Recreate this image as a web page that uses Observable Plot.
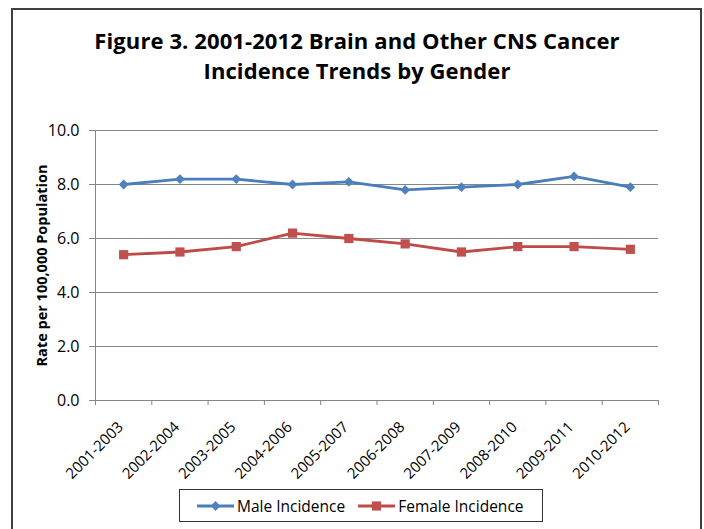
<!DOCTYPE html>
<html>
<head>
<meta charset="utf-8">
<script src="https://cdn.jsdelivr.net/npm/d3@7"></script>
<script src="https://cdn.jsdelivr.net/npm/@observablehq/plot@0.6"></script>
<style>
  html, body { margin: 0; padding: 0; background: #fff; }
  #wrap { position: relative; width: 704px; height: 529px; overflow: hidden; font-family: "Open Sans", Lato, sans-serif; }
  #chart { position: absolute; left: 0; top: 0; }
  #frame { position: absolute; left: 11px; top: 8px; width: 687px; height: 540px; border: 2px solid #3f3f3f; pointer-events: none; }
  #title { position: absolute; left: 12px; width: 690px; top: 25px; text-align: center; font-weight: bold; font-size: 22px; line-height: 30px; letter-spacing: 0.1px; color: #000; }
  #legend { position: absolute; left: 179px; top: 489px; width: 364px; height: 33px; border: 1px solid #333; box-sizing: border-box; display: flex; align-items: center; padding-left: 17px; font-size: 15.5px; color: #000; background: #fff; }
  .item { display: flex; align-items: center; margin-right: 13px; }
  .item svg { display: block; margin-right: 3px; }
</style>
</head>
<body>
<div id="wrap">
  <div id="chart"></div>
  <div id="title">Figure 3. 2001-2012 Brain and Other CNS Cancer<br>Incidence Trends by Gender</div>
  <div id="legend"></div>
  <div id="frame"></div>
</div>
<script>
const periods = ["2001-2003","2002-2004","2003-2005","2004-2006","2005-2007","2006-2008","2007-2009","2008-2010","2009-2011","2010-2012"];
const maleIncidence = [8.0, 8.2, 8.2, 8.0, 8.1, 7.8, 7.9, 8.0, 8.3, 7.9];
const femaleIncidence = [5.4, 5.5, 5.7, 6.2, 6.0, 5.8, 5.5, 5.7, 5.7, 5.6];
const yTicks = [0, 2, 4, 6, 8, 10];
const seriesNames = ["Male Incidence", "Female Incidence"];
const yLabel = "Rate per 100,000 Population";

const lineColors = ["#4A7EBB", "#BE4B48"];
const markColors = ["#4F81BD", "#C0504D"];
const symbols = ["diamond2", "square"];

const idx = periods.map((_, i) => i);
const bounds = periods.map((_, i) => i - 0.5).concat([periods.length - 0.5]);
const maleRows = periods.map((p, i) => ({i, period: p, value: maleIncidence[i]}));
const femaleRows = periods.map((p, i) => ({i, period: p, value: femaleIncidence[i]}));

const gray = "#868686";
const chart = Plot.plot({
  width: 704,
  height: 486,
  marginTop: 130,
  marginBottom: 86,
  marginLeft: 95,
  marginRight: 46,
  style: {background: "none", fontFamily: "'Open Sans', Lato, sans-serif", color: "#000", overflow: "visible"},
  x: {type: "linear", domain: [-0.5, periods.length - 0.5]},
  y: {domain: [0, 10]},
  marks: [
    Plot.gridY(yTicks, {stroke: gray, strokeOpacity: 1, strokeWidth: 1}),
    Plot.axisY(yTicks, {tickSize: 6, tickPadding: 10, stroke: gray, fontSize: 16, tickFormat: d3.format(".1f"), label: null}),
    Plot.ruleX([-0.5], {stroke: gray, strokeWidth: 1}),
    Plot.axisX(bounds, {tickSize: 5, stroke: gray, tickFormat: () => "", label: null}),
    Plot.axisX(idx, {tickSize: 0, tickPadding: 18, tickRotate: -45, dx: -3, dy: 6, fontSize: 15, tickFormat: i => periods[i], label: null}),
    Plot.text([yLabel], {text: d => d, frameAnchor: "left", textAnchor: "middle", rotate: -90, dx: -53, fontWeight: "bold", fontSize: 14.5}),
    Plot.line(maleRows, {x: "i", y: "value", stroke: lineColors[0], strokeWidth: 2.8}),
    Plot.dot(maleRows, {x: "i", y: "value", symbol: symbols[0], r: 4.4, fill: markColors[0]}),
    Plot.line(femaleRows, {x: "i", y: "value", stroke: lineColors[1], strokeWidth: 2.8}),
    Plot.dot(femaleRows, {x: "i", y: "value", symbol: symbols[1], r: 5.2, fill: markColors[1]})
  ]
});
document.getElementById("chart").appendChild(chart);

// legend
const legend = document.getElementById("legend");
seriesNames.forEach((name, k) => {
  const item = document.createElement("div");
  item.className = "item";
  const sw = d3.create("svg").attr("width", 37).attr("height", 14);
  sw.append("line").attr("x1", 0).attr("x2", 37).attr("y1", 7).attr("y2", 7).attr("stroke", lineColors[k]).attr("stroke-width", 2.8);
  const sym = d3.symbol(k === 0 ? d3.symbolDiamond2 : d3.symbolSquare, k === 0 ? Math.PI * 4.4 * 4.4 : Math.PI * 27);
  sw.append("path").attr("d", sym()).attr("transform", "translate(18.5,7)").attr("fill", markColors[k]);
  item.appendChild(sw.node());
  const t = document.createElement("span");
  t.textContent = name;
  item.appendChild(t);
  legend.appendChild(item);
});
</script>
</body>
</html>
